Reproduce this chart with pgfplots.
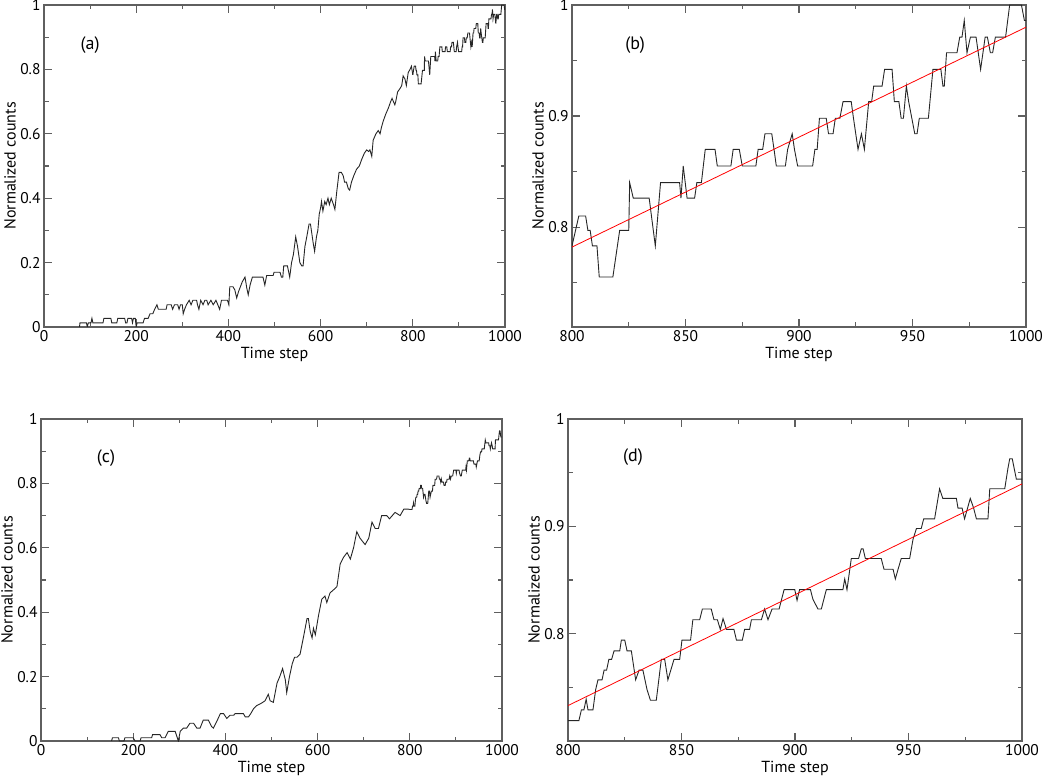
\documentclass[border=0pt]{standalone}
\usepackage{pgfplots}
\pgfplotsset{compat=1.18}
\usepackage{pgfplotstable}
\usepackage{fontspec}
\setmainfont{PT Sans}

\definecolor{axgray}{RGB}{95,95,95}

% full runs, 0..800
\pgfplotstableread{
t v
77 0
78 0.013
92 0.013
94 0
96 0.013
102 0.013
104 0.027
106 0.013
128 0.013
130 0.027
145 0.027
147 0.013
158 0.013
160 0.027
175 0.027
177 0.013
180 0.013
182 0.027
190 0.027
192 0.013
194 0.027
198 0.027
200 0
202 0.013
215 0.013
218 0.027
226 0.027
230 0.041
236 0.041
240 0.055
245 0.069
248 0.055
265 0.055
267 0.069
276 0.069
279 0.055
283 0.069
290 0.069
293 0.055
296 0.069
300 0.069
302 0.041
305 0.055
309 0.069
315 0.083
319 0.069
323 0.083
331 0.083
333 0.069
336 0.055
340 0.083
345 0.069
349 0.083
353 0.083
356 0.069
362 0.083
367 0.069
373 0.083
377 0.069
381 0.055
385 0.083
398 0.083
401 0.069
403 0.125
410 0.125
414 0.115
418 0.090
422 0.110
426 0.125
430 0.140
436 0.155
440 0.120
443 0.100
447 0.130
452 0.155
475 0.155
479 0.130
483 0.160
497 0.160
499 0.170
512 0.170
515 0.155
518 0.155
520 0.190
528 0.190
533 0.155
537 0.200
541 0.225
546 0.280
550 0.250
555 0.200
559 0.190
562 0.190
566 0.250
570 0.280
575 0.320
578 0.320
582 0.280
584 0.260
587 0.235
591 0.280
594 0.300
597 0.350
600 0.370
602 0.390
605 0.360
609 0.390
612 0.380
616 0.400
619 0.380
623 0.400
628 0.380
631 0.365
635 0.420
640 0.480
645 0.480
649 0.470
652 0.450
656 0.450
660 0.430
663 0.425
667 0.450
672 0.470
678 0.490
684 0.500
689 0.520
695 0.540
700 0.550
704 0.545
707 0.550
711 0.530
714 0.580
720 0.600
725 0.610
729 0.600
732 0.620
736 0.640
741 0.660
747 0.680
752 0.700
755 0.710
758 0.700
761 0.690
763 0.700
767 0.730
772 0.740
776 0.750
779 0.780
783 0.770
786 0.750
790 0.790
794 0.800
797 0.810
800 0.783
}\runAlow

% run a, 800..1000 (also panel b)
\pgfplotstableread{
t v
800 0.783
803 0.810
806 0.810
807 0.797
808 0.797
809 0.783
811 0.783
812 0.755
818 0.755
821 0.797
825 0.797
825.4 0.840
827 0.826
834 0.826
835 0.810
836.7 0.783
839 0.840
847.4 0.840
848 0.826
849 0.855
850.7 0.826
854 0.826
855 0.840
857 0.840
858.7 0.870
863 0.870
864 0.855
870 0.855
871 0.870
873.7 0.870
875 0.855
881 0.855
882 0.870
884 0.870
885 0.884
888 0.884
889 0.870
890 0.855
894 0.855
895 0.870
897 0.884
898 0.870
899.4 0.855
906 0.855
907 0.870
908 0.870
909 0.898
912 0.898
913 0.884
915 0.884
916 0.898
918 0.898
919.4 0.913
923 0.913
924 0.898
926 0.870
927.5 0.884
928.8 0.870
930.7 0.913
932 0.913
932.9 0.927
936.6 0.927
937.7 0.942
941 0.942
942 0.913
944 0.913
945 0.898
946 0.898
947.3 0.927
948.3 0.913
951 0.884
952 0.884
953 0.898
957 0.898
959 0.942
962.5 0.942
963.4 0.927
964 0.927
965 0.957
969.6 0.957
970.8 0.971
971.8 0.971
972.8 0.986
974 0.957
975.5 0.971
978 0.971
980 0.942
982 0.971
983 0.971
984.3 0.957
985.3 0.957
986.5 0.971
991 0.971
992.8 1.000
998 1.000
999.3 0.986
1000 0.986
}\runB

% run c, 0..800
\pgfplotstableread{
t v
153 0
155 0.010
168 0.010
170 0
180 0
182 0.010
200 0.010
204 0
215 0
217 0.010
240 0.010
242 0.020
258 0.020
262 0.010
269 0.010
276 0.030
291 0.030
298 0.000
302 0.030
309 0.040
316 0.040
323 0.055
331 0.055
338 0.040
345 0.040
352 0.065
363 0.065
370 0.045
374 0.040
381 0.060
389 0.085
396 0.085
403 0.070
410 0.080
418 0.080
421 0.085
439 0.085
443 0.075
450 0.075
455 0.085
461 0.100
468 0.110
475 0.115
481 0.120
486 0.125
493 0.145
497 0.125
504 0.120
512 0.180
518 0.200
524 0.225
530 0.190
533 0.150
539 0.200
545 0.240
550 0.260
555 0.260
562 0.270
569 0.320
577 0.380
580 0.380
584 0.340
588 0.320
591 0.350
595 0.330
602 0.390
609 0.440
616 0.450
620 0.430
627 0.460
635 0.470
642 0.480
649 0.550
656 0.570
664 0.585
671 0.565
678 0.600
685 0.650
692 0.630
703 0.610
711 0.630
718 0.680
725 0.660
732 0.660
739 0.700
750 0.700
756 0.690
768 0.710
779 0.700
787 0.720
797 0.720
800 0.719
}\runClow

% run c, 800..1000 (also panel d)
\pgfplotstableread{
t v
800 0.719
804.8 0.719
805.9 0.729
807 0.729
808 0.739
808.8 0.729
811 0.729
812.2 0.748
813.2 0.757
815 0.757
815.9 0.766
817 0.766
818 0.776
819.2 0.776
820.3 0.784
822.8 0.784
823.5 0.794
825 0.794
826 0.784
827.9 0.784
829.8 0.757
831.3 0.766
833 0.766
834.8 0.748
836.3 0.738
838.9 0.738
841.1 0.776
842.6 0.776
844 0.757
846.7 0.776
849.2 0.776
850.2 0.794
854 0.794
855 0.813
858 0.813
859.2 0.823
863.1 0.823
864.3 0.813
865.8 0.813
867.1 0.804
868.3 0.814
869.8 0.804
873.1 0.804
874.2 0.794
876.8 0.794
877.8 0.804
880 0.804
880.8 0.813
885.2 0.813
886.6 0.823
888.1 0.813
889.9 0.823
893 0.823
895.2 0.841
899.9 0.841
900.9 0.831
902 0.841
906.8 0.841
907.9 0.832
910.1 0.823
911.6 0.823
913.8 0.841
921.1 0.841
921.9 0.851
922.9 0.841
924.8 0.870
928 0.870
929.2 0.879
930 0.879
931 0.870
938 0.870
939.2 0.860
943.2 0.860
944.2 0.851
945.4 0.860
946.8 0.870
950.5 0.870
952 0.888
953.5 0.898
955.6 0.898
956.7 0.907
961.5 0.907
963.7 0.935
965.1 0.926
971.1 0.926
971.8 0.917
973.6 0.917
974.7 0.907
977.2 0.926
978.7 0.917
979.9 0.907
985 0.907
985.8 0.935
992.4 0.935
993.8 0.954
994.6 0.963
995.7 0.963
997.5 0.944
1000 0.944
}\runD

\tikzset{tag/.style={font=\fontsize{18}{20}\selectfont}}

\pgfplotsset{
  panel/.style={
    scale only axis, height=322pt,
    axis line style={draw=axgray, line width=1.1pt},
    every tick/.style={draw=axgray, line width=1.1pt},
    tick align=inside,
    major tick length=8pt, minor tick length=4.5pt,
    tick label style={font=\fontsize{15.5}{17}\selectfont},
    label style={font=\fontsize{16}{18}\selectfont},
    /pgf/number format/assume math mode=true,
    /pgf/number format/1000 sep={},
    xlabel={Time step}, ylabel={Normalized counts},
    xlabel style={at={([yshift=-27pt]axis description cs:0.5,0)}, anchor=center},
    ylabel style={at={([xshift=-34pt]axis description cs:0,0.5)}, anchor=center},
  },
  full/.style={panel, width=461pt,
    xmin=0, xmax=1000, ymin=0, ymax=1,
    xtick={0,200,...,1000}, minor xtick={100,300,...,900},
    ytick={0,0.2,...,1}, minor ytick={0.1,0.3,...,0.9}},
  zoom/.style={panel, width=454pt,
    xmin=800, xmax=1000, ymax=1,
    xtick={800,850,...,1000}, minor xtick={825,875,925,975},
    ytick={0.8,0.9,1}, minor ytick={0.75,0.85,0.95}},
  run/.style={black!85, line width=0.9pt},
  fit/.style={red, line width=0.8pt},
}

\begin{document}
\begin{tikzpicture}
\useasboundingbox (0,0) rectangle (1050pt,777pt);

% (a)
\begin{axis}[full, at={(44pt,450pt)}, anchor=south west]
  \addplot[run] table[x=t, y=v] {\runAlow};
  \addplot[run] table[x=t, y=v] {\runB};
  \node[tag] at (rel axis cs:0.10,0.876) {(a)};
\end{axis}

% (b)
\begin{axis}[zoom, ymin=0.71, at={(572pt,450pt)}, anchor=south west]
  \addplot[run] table[x=t, y=v] {\runB};
  \addplot[fit] coordinates {(800,0.782) (1000,0.980)};
  \node[tag] at (rel axis cs:0.139,0.876) {(b)};
\end{axis}

% (c)
\begin{axis}[full, at={(41pt,36pt)}, anchor=south west]
  \addplot[run] table[x=t, y=v] {\runClow};
  \addplot[run] table[x=t, y=v] {\runD};
  \node[tag] at (rel axis cs:0.141,0.879) {(c)};
\end{axis}

% (d)
\begin{axis}[zoom, ymin=0.70, at={(568pt,36pt)}, anchor=south west]
  \addplot[run] table[x=t, y=v] {\runD};
  \addplot[fit] coordinates {(800,0.733) (1000,0.9395)};
  \node[tag] at (rel axis cs:0.143,0.882) {(d)};
\end{axis}
\end{tikzpicture}
\end{document}
